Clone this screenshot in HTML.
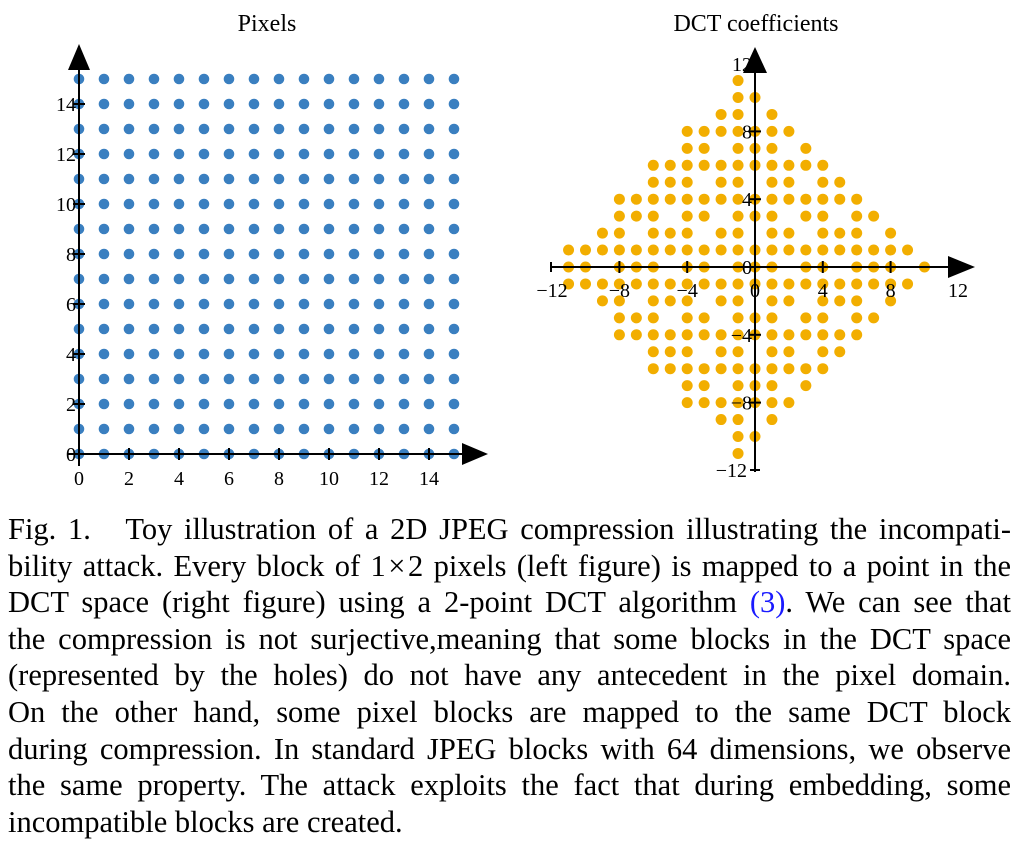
<!DOCTYPE html>
<html><head><meta charset="utf-8"><style>
body{margin:0;background:#fff;width:1019px;height:841px;overflow:hidden;font-family:"Liberation Serif",serif}
#cap{position:absolute;left:8px;top:511px;width:1003px;font-size:30.5px;color:#000}
#cap div{height:36.6px;line-height:36.6px;white-space:nowrap;text-align:justify;text-align-last:justify}
#cap div.l{text-align-last:left}
#cap a{color:#1a1aff;text-decoration:none}
</style></head><body>
<svg id="s" width="1019" height="500" style="position:absolute;left:0;top:0" font-family="Liberation Serif, serif"></svg>
<div id="cap">
<div>Fig. 1.&nbsp;&nbsp; Toy illustration of a 2D JPEG compression illustrating the incompati-</div>
<div>bility attack. Every block of 1&#8202;×&#8202;2 pixels (left figure) is mapped to a point in the</div>
<div>DCT space (right figure) using a 2-point DCT algorithm <a>(3)</a>. We can see that</div>
<div>the compression is not surjective,meaning that some blocks in the DCT space</div>
<div>(represented by the holes) do not have any antecedent in the pixel domain.</div>
<div>On the other hand, some pixel blocks are mapped to the same DCT block</div>
<div>during compression. In standard JPEG blocks with 64 dimensions, we observe</div>
<div>the same property. The attack exploits the fact that during embedding, some</div>
<div class="l">incompatible blocks are created.</div>
</div>
<script>
var h='';
h+='<text x="267" y="31" font-size="24" text-anchor="middle">Pixels</text>';
h+='<text x="756" y="31" font-size="24" text-anchor="middle">DCT coefficients</text>';
var ox=79,oy=454,u=25;
for(var i=0;i<16;i++)for(var j=0;j<16;j++)h+='<circle cx="'+(ox+i*u)+'" cy="'+(oy-j*u)+'" r="5.3" fill="#3a7fc0"/>';
h+='<line x1="'+(ox-12)+'" y1="'+oy+'" x2="470" y2="'+oy+'" stroke="#000" stroke-width="2"/>';
h+='<line x1="'+ox+'" y1="'+(oy+12)+'" x2="'+ox+'" y2="62" stroke="#000" stroke-width="2"/>';
h+='<polygon points="462,443 488,454 462,465" fill="#000"/>';
h+='<polygon points="68,70 79,44 90,70" fill="#000"/>';
for(var k=0;k<=14;k+=2){var x=ox+k*u,y=oy-k*u;
h+='<line x1="'+x+'" y1="'+(oy-6)+'" x2="'+x+'" y2="'+(oy+6)+'" stroke="#000" stroke-width="2"/>';
h+='<line x1="'+(ox-6)+'" y1="'+y+'" x2="'+(ox+6)+'" y2="'+y+'" stroke="#000" stroke-width="2"/>';
h+='<text x="'+x+'" y="'+(oy+31)+'" font-size="20" text-anchor="middle">'+k+'</text>';
h+='<text x="'+(ox-3)+'" y="'+(y+7)+'" font-size="20" text-anchor="end">'+k+'</text>';}
var cx=755,cy=267,v=16.95,seen={};
for(var a=-8;a<8;a++)for(var b=-8;b<8;b++){var X=Math.round((a+b)/Math.SQRT2),Y=Math.round((a-b)/Math.SQRT2);var key=X+','+Y;if(seen[key])continue;seen[key]=1;
h+='<circle cx="'+(cx+X*v)+'" cy="'+(cy-Y*v)+'" r="5.5" fill="#f2ae00"/>';}
h+='<line x1="550" y1="'+cy+'" x2="950" y2="'+cy+'" stroke="#000" stroke-width="2"/>';
h+='<line x1="'+cx+'" y1="472" x2="'+cx+'" y2="68" stroke="#000" stroke-width="2"/>';
h+='<polygon points="948,256 975,267 948,278" fill="#000"/>';
h+='<polygon points="743,73 755,47 767,73" fill="#000"/>';
h+='<line x1="551" y1="262" x2="551" y2="272" stroke="#000" stroke-width="2"/>';
h+='<line x1="750" y1="470" x2="760" y2="470" stroke="#000" stroke-width="2"/>';
var lab={'-8':'−8','-4':'−4','0':'0','4':'4','8':'8'};
[-8,-4,0,4,8].forEach(function(k){var x=cx+k*v,y=cy-k*v;
h+='<line x1="'+x+'" y1="'+(cy-6)+'" x2="'+x+'" y2="'+(cy+6)+'" stroke="#000" stroke-width="2"/>';
h+='<line x1="'+(cx-6)+'" y1="'+y+'" x2="'+(cx+6)+'" y2="'+y+'" stroke="#000" stroke-width="2"/>';
h+='<text x="'+x+'" y="'+(cy+30)+'" font-size="20" text-anchor="middle">'+lab[k]+'</text>';
h+='<text x="'+(cx-3)+'" y="'+(y+7)+'" font-size="20" text-anchor="end">'+lab[k]+'</text>';});
h+='<text x="552" y="297" font-size="20" text-anchor="middle">−12</text>';
h+='<text x="958" y="297" font-size="20" text-anchor="middle">12</text>';
h+='<text x="752" y="71" font-size="20" text-anchor="end">12</text>';
h+='<text x="747" y="477" font-size="20" text-anchor="end">−12</text>';
document.getElementById('s').innerHTML=h;
</script>
</body></html>
